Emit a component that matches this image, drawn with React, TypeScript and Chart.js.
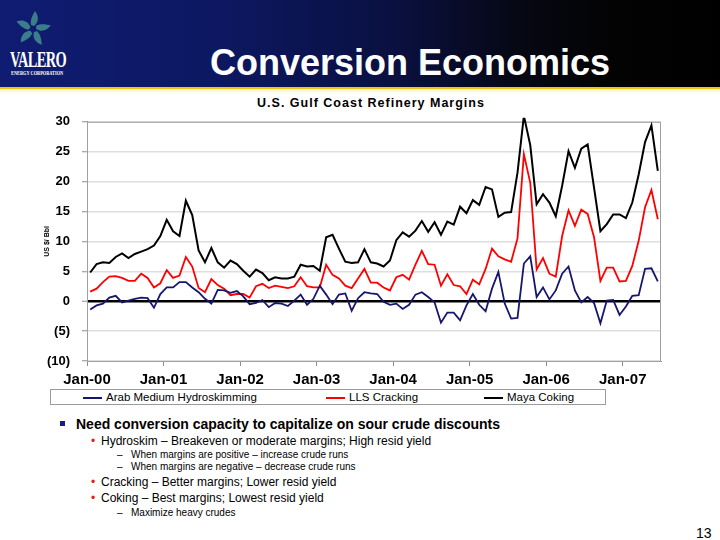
import React, { useEffect, useRef } from "react";
import { Chart, registerables } from "chart.js";
Chart.register(...registerables);

const YEAR_LABELS = ["Jan-00", "Jan-01", "Jan-02", "Jan-03", "Jan-04", "Jan-05", "Jan-06", "Jan-07"];
const SERIES_NAMES = ["Arab Medium Hydroskimming", "LLS Cracking", "Maya Coking"];
const SERIES_COLORS = ["#16166e", "#ff0000", "#000000"];

// Monthly margins, Jan-00 .. Jun-07 (US $/Bbl)
const ARAB = [
  -1.4, -0.7, -0.4, 0.6, 0.9, -0.2, 0.1, 0.4, 0.6, 0.5, -1.1, 1.2,
  2.3, 2.3, 3.2, 3.2, 2.3, 1.5, 0.4, -0.4, 1.9, 1.8, 1.4, 1.7,
  0.8, -0.5, -0.3, 0.2, -1.0, -0.3, -0.4, -0.8, 0.1, 1.1, -0.6, 0.4,
  2.6, 1.1, -0.5, 1.1, 1.3, -1.6, 0.5, 1.5, 1.3, 1.2, -0.1, -0.6,
  -0.4, -1.3, -0.6, 1.1, 1.5, 0.7, -0.2, -3.6, -1.9, -1.9, -3.2, -0.7,
  1.2, -0.6, -1.7, 2.1, 4.9, -0.4, -2.9, -2.8, 6.3, 7.5, 0.7, 2.3,
  0.3, 1.8, 4.6, 5.8, 1.8, -0.2, 0.7, -0.3, -3.7, 0.1, 0.2, -2.3,
  -0.9, 0.9, 1.0, 5.4, 5.5, 3.3,
];
const LLS = [
  1.6, 2.1, 3.2, 4.1, 4.2, 3.9, 3.4, 3.4, 4.6, 3.9, 2.3, 3.0,
  5.2, 3.9, 4.3, 7.4, 5.8, 2.2, 1.5, 3.7, 2.7, 2.1, 1.0, 1.2,
  1.2, 0.6, 2.5, 2.9, 2.2, 2.6, 2.4, 2.2, 2.5, 4.0, 2.5, 2.3,
  2.3, 6.1, 4.4, 3.8, 2.6, 2.2, 3.8, 5.4, 3.1, 3.1, 2.3, 1.8,
  4.0, 4.4, 3.6, 6.1, 8.4, 6.2, 6.1, 2.6, 4.5, 2.7, 2.5, 1.2,
  3.6, 2.8, 5.4, 8.8, 7.5, 7.0, 6.6, 10.5, 24.6, 19.8, 5.3, 7.2,
  4.6, 4.1, 10.9, 15.2, 12.6, 15.3, 14.6, 10.7, 3.4, 5.6, 5.6, 3.3,
  3.4, 5.9, 10.1, 15.7, 18.6, 13.7,
];
const MAYA = [
  4.8, 6.2, 6.5, 6.4, 7.4, 8.0, 7.2, 7.9, 8.3, 8.7, 9.3, 10.9,
  13.6, 11.7, 10.9, 16.8, 14.4, 8.5, 6.5, 8.9, 6.5, 5.6, 6.8, 6.2,
  5.1, 4.1, 5.3, 4.7, 3.5, 4.0, 3.8, 3.8, 4.1, 6.1, 5.8, 5.9,
  5.1, 10.7, 11.1, 8.8, 6.6, 6.4, 6.5, 8.7, 6.5, 6.3, 5.8, 6.8,
  10.2, 11.5, 10.8, 11.8, 13.4, 11.6, 13.2, 11.1, 13.3, 12.8, 15.8, 14.7,
  16.9, 16.1, 19.1, 18.7, 14.1, 14.8, 14.9, 21.5, 31.0, 26.1, 16.2, 17.9,
  16.5, 14.2, 19.3, 25.1, 22.3, 25.5, 26.2, 19.0, 11.7, 12.9, 14.5, 14.5,
  13.9, 16.5, 21.2, 26.6, 29.4, 21.8,
];
const SERIES_VALUES = [ARAB, LLS, MAYA];

const Y_MIN = -10;
const Y_MAX = 30;
const Y_STEP = 5;
const MONTHS_PER_YEAR = 12;
const X_MAX_MONTHS = 90;

const SANS = "'Liberation Sans', Arial, Helvetica, sans-serif";

const BULLETS: { level: number; text: string }[] = [
  { level: 0, text: "Need conversion capacity to capitalize on sour crude discounts" },
  { level: 1, text: "Hydroskim \u2013 Breakeven or moderate margins; High resid yield" },
  { level: 2, text: "When margins are positive \u2013 increase crude runs" },
  { level: 2, text: "When margins are negative \u2013 decrease crude runs" },
  { level: 1, text: "Cracking \u2013 Better margins; Lower resid yield" },
  { level: 1, text: "Coking \u2013 Best margins; Lowest resid yield" },
  { level: 2, text: "Maximize heavy crudes" },
];
const BULLET_TOPS = [424, 441, 455, 467, 482, 498, 513];

function Emblem() {
  const blades = [0, 72, 144, 216, 288];
  return (
    <svg width="40" height="40" viewBox="-20 -20 40 40" style={{ position: "absolute", left: 13, top: 9 }}>
      {blades.map((a) => (
        <path
          key={a}
          d="M1,-3 C6,-7 6,-13 2,-18 C0,-14 -3,-10 -2,-4 Z"
          fill="#3b7d8a"
          transform={`rotate(${a})`}
        />
      ))}
    </svg>
  );
}

export default function App() {
  const ref = useRef<HTMLCanvasElement>(null);

  useEffect(() => {
    const canvas = ref.current;
    if (!canvas) return;
    const frame = {
      id: "frame",
      beforeDatasetsDraw(c: any) {
        const { ctx, chartArea: a } = c;
        ctx.save();
        ctx.strokeStyle = "#a0a0a0";
        ctx.lineWidth = 1;
        ctx.strokeRect(a.left + 0.5, a.top + 0.5, a.right - a.left - 1, a.bottom - a.top);
        ctx.restore();
      },
    };
    const chart = new Chart(canvas, {
      type: "line",
      data: {
        datasets: SERIES_VALUES.map((vals, k) => ({
          label: SERIES_NAMES[k],
          data: vals.map((v, i) => ({ x: i + 0.5, y: v })),
          borderColor: SERIES_COLORS[k],
          backgroundColor: SERIES_COLORS[k],
          borderWidth: k === 2 ? 2 : 1.8,
          pointRadius: 0,
          tension: 0,
          clip: { left: 0, right: 0, top: 4, bottom: 0 },
        })),
      },
      options: {
        animation: false,
        responsive: false,
        layout: { padding: { top: 11, right: 59, bottom: 0, left: 0 } },
        plugins: {
          legend: { display: false },
          tooltip: { enabled: false },
          title: { display: false },
        },
        scales: {
          x: {
            type: "linear",
            min: 0,
            max: X_MAX_MONTHS,
            afterFit: (s: any) => {
              s.height = 33;
            },
            grid: { drawOnChartArea: false, drawTicks: true, tickLength: 5, color: "#8c8c8c" },
            border: { color: "#8c8c8c" },
            ticks: {
              stepSize: MONTHS_PER_YEAR,
              includeBounds: false,
              autoSkip: false,
              maxRotation: 0,
              padding: 5,
              color: "#000",
              font: { family: SANS, size: 15, weight: "bold" },
              callback: (v: any) => YEAR_LABELS[Math.round(Number(v) / MONTHS_PER_YEAR)] ?? "",
            },
          },
          y: {
            min: Y_MIN,
            max: Y_MAX,
            afterFit: (s: any) => {
              s.width = 87;
            },
            ticks: {
              stepSize: Y_STEP,
              padding: 12,
              color: "#000",
              font: { family: SANS, size: 13, weight: "bold" },
              callback: (v: any) => (Number(v) < 0 ? `(${-Number(v)})` : `${v}`),
            },
            grid: {
              color: (ctx: any) => (ctx.tick && ctx.tick.value === 0 ? "#000" : "#dedede"),
              lineWidth: (ctx: any) => (ctx.tick && ctx.tick.value === 0 ? 2.5 : 1.5),
              tickColor: "#8c8c8c",
              tickLength: 5,
              tickWidth: 1,
            },
            border: { color: "#8c8c8c" },
            title: {
              display: true,
              text: "US $/ Bbl",
              color: "#000",
              font: { family: SANS, size: 7, weight: "bold" },
              padding: { top: 43, bottom: 0 },
            },
          },
        },
      },
      plugins: [frame],
    } as any);
    return () => chart.destroy();
  }, []);

  return (
    <div
      style={{
        position: "fixed",
        left: 0,
        top: 0,
        width: 720,
        height: 540,
        background: "#fff",
        overflow: "hidden",
        fontFamily: SANS,
      }}
    >
      {/* header */}
      <div
        style={{
          position: "absolute",
          left: 0,
          top: 0,
          width: 720,
          height: 87,
          background: "linear-gradient(to right, #0f1c72 0%, #0d1862 30%, #0a1040 55%, #060814 72%, #030303 85%, #000 100%)",
        }}
      />
      <div style={{ position: "absolute", left: 0, top: 87, width: 720, height: 2, background: "#f1c40f" }} />
      <div
        style={{
          position: "absolute",
          left: 0,
          top: 89,
          width: 720,
          height: 5,
          background: "linear-gradient(to bottom, #fdf2c4, #ffffff)",
        }}
      />
      <Emblem />
      <div
        style={{
          position: "absolute",
          left: 10,
          top: 47,
          color: "#fff",
          fontFamily: "'Liberation Serif', 'Times New Roman', serif",
          fontWeight: "bold",
          fontSize: 24,
          lineHeight: "24px",
          letterSpacing: -1,
          transform: "scaleX(0.6)",
          transformOrigin: "left top",
          whiteSpace: "nowrap",
        }}
      >
        VALERO
      </div>
      <div
        style={{
          position: "absolute",
          left: 11,
          top: 69,
          color: "#fff",
          fontFamily: "'Liberation Serif', 'Times New Roman', serif",
          fontWeight: "bold",
          fontSize: 7,
          lineHeight: "8px",
          transform: "scaleX(0.62)",
          transformOrigin: "left top",
          whiteSpace: "nowrap",
        }}
      >
        ENERGY CORPORATION
      </div>
      <div
        style={{
          position: "absolute",
          left: 210,
          top: 45,
          color: "#fff",
          fontWeight: "bold",
          fontSize: 36,
          lineHeight: "36px",
          whiteSpace: "nowrap",
        }}
      >
        Conversion Economics
      </div>

      {/* chart title */}
      <div
        style={{
          position: "absolute",
          left: 0,
          width: 742,
          top: 96,
          textAlign: "center",
          fontWeight: "bold",
          fontSize: 12.5,
          letterSpacing: 1,
          lineHeight: "14px",
          color: "#000",
        }}
      >
        U.S. Gulf Coast Refinery Margins
      </div>

      <canvas
        ref={ref}
        width={720}
        height={292}
        style={{ position: "absolute", left: 0, top: 102, width: 720, height: 292 }}
      />

      {/* legend */}
      <div
        style={{
          position: "absolute",
          left: 50,
          top: 389,
          width: 554,
          height: 14,
          border: "1px solid #9a9a9a",
          background: "#fff",
        }}
      >
        {SERIES_NAMES.map((n, k) => {
          const lefts = [32, 275, 433];
          return (
            <div key={n} style={{ position: "absolute", left: lefts[k], top: 0, height: 14, whiteSpace: "nowrap" }}>
              <div style={{ position: "absolute", left: 0, top: 7, width: 19, height: 1.5, background: SERIES_COLORS[k] }} />
              <span style={{ position: "absolute", left: 23, top: 0, fontSize: 11.5, lineHeight: "14px", color: "#000" }}>{n}</span>
            </div>
          );
        })}
      </div>

      {/* bullets */}
      {BULLETS.map((b, i) => {
        const top = BULLET_TOPS[i];
        if (b.level === 0) {
          return (
            <div key={i} style={{ position: "absolute", left: 0, top: top - 8, height: 16, whiteSpace: "nowrap" }}>
              <div style={{ position: "absolute", left: 60, top: 5, width: 5, height: 5, background: "#1a1a8c" }} />
              <span style={{ position: "absolute", left: 76, top: 0, fontSize: 14, lineHeight: "16px", fontWeight: "bold", color: "#000" }}>
                {b.text}
              </span>
            </div>
          );
        }
        if (b.level === 1) {
          return (
            <div key={i} style={{ position: "absolute", left: 0, top: top - 7, height: 14, whiteSpace: "nowrap" }}>
              <span style={{ position: "absolute", left: 91, top: 0, fontSize: 12, lineHeight: "14px", color: "#e02020" }}>{"\u2022"}</span>
              <span style={{ position: "absolute", left: 101, top: 0, fontSize: 12, lineHeight: "14px", color: "#000" }}>{b.text}</span>
            </div>
          );
        }
        return (
          <div key={i} style={{ position: "absolute", left: 0, top: top - 6, height: 12, whiteSpace: "nowrap" }}>
            <span style={{ position: "absolute", left: 117, top: 0, fontSize: 10, lineHeight: "12px", color: "#000" }}>{"\u2013"}</span>
            <span style={{ position: "absolute", left: 131, top: 0, fontSize: 10, lineHeight: "12px", color: "#000" }}>{b.text}</span>
          </div>
        );
      })}

      <div style={{ position: "absolute", left: 696, top: 525, fontSize: 14, lineHeight: "16px", color: "#000" }}>13</div>
    </div>
  );
}
